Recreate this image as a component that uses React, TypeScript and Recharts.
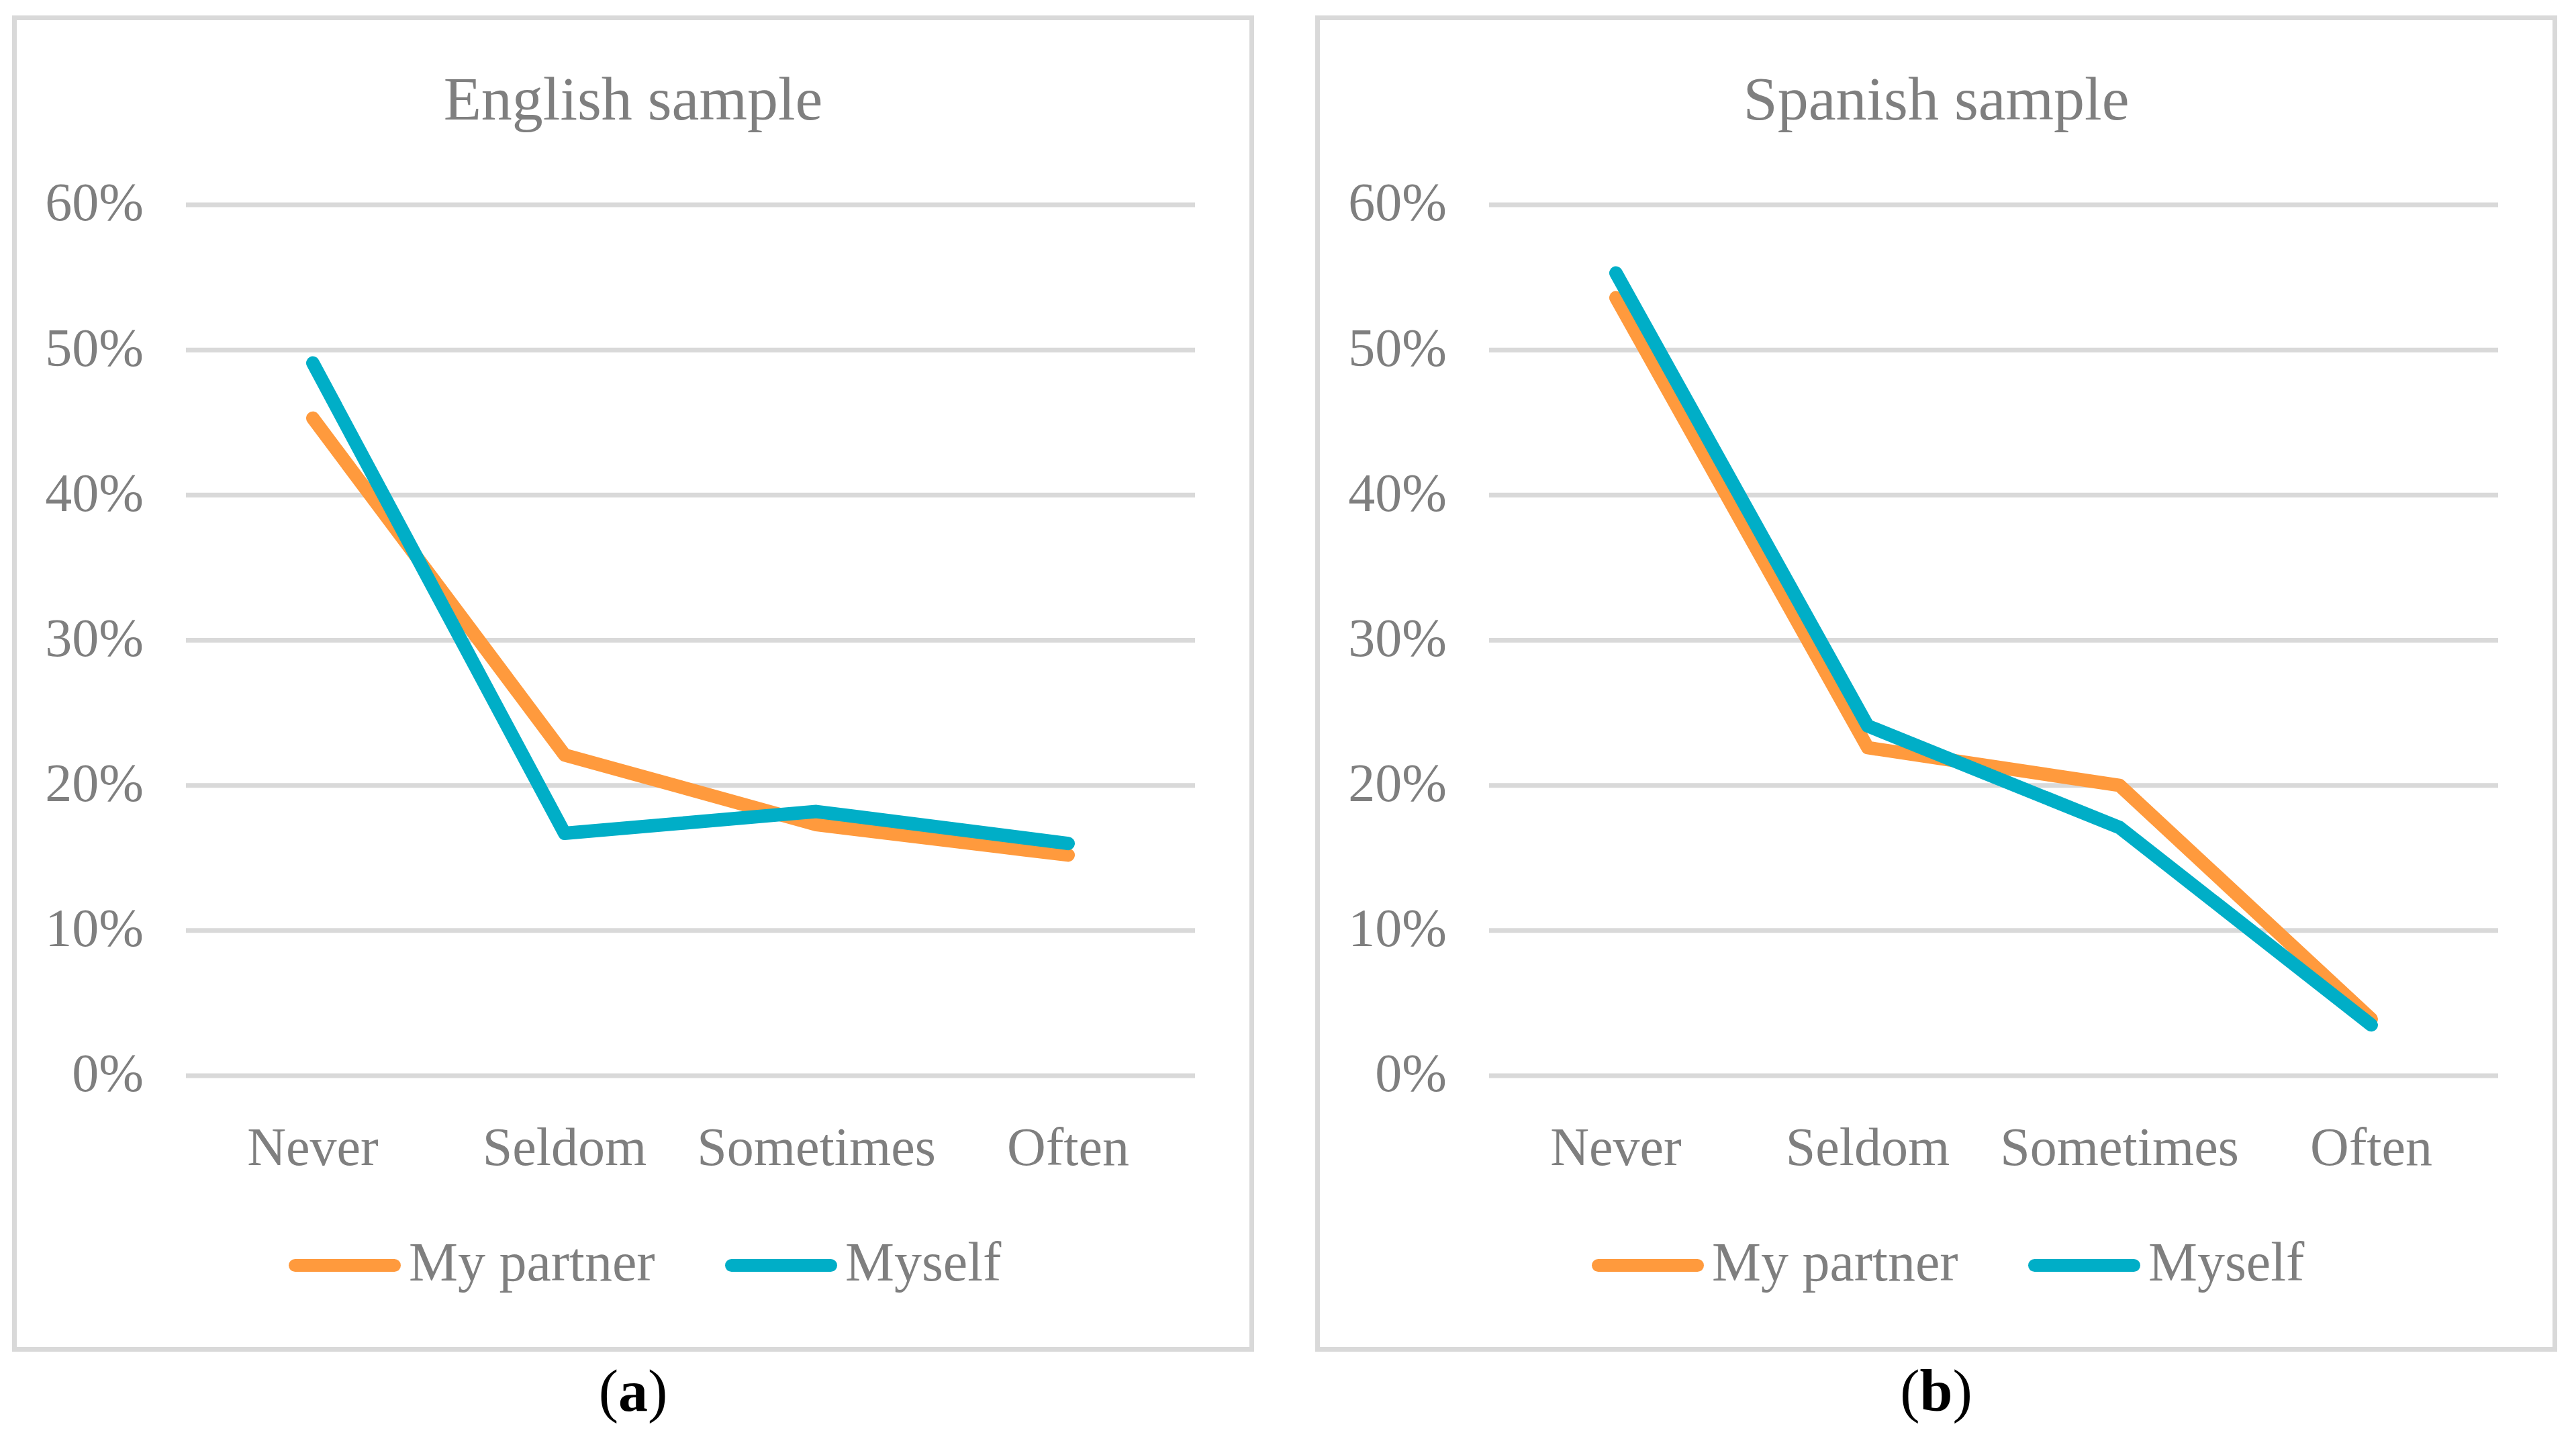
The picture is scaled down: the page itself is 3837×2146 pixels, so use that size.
import { LineChart, Line, XAxis, YAxis, CartesianGrid, Legend } from 'recharts';

const categories = ['Never', 'Seldom', 'Sometimes', 'Often'];
const englishPartner = [45.3, 22.1, 17.3, 15.2];
const englishMyself = [49.1, 16.7, 18.2, 16.0];
const spanishPartner = [53.6, 22.6, 20.0, 3.9];
const spanishMyself = [55.3, 24.1, 17.1, 3.5];
const percentTicks = [0, 10, 20, 30, 40, 50, 60];
const seriesNames = ['My partner', 'Myself'];

const ORANGE = '#ff9a3d';
const TEAL = '#00aec7';
const GREY_TEXT = '#7f7f7f';
const GRID = '#d9d9d9';
const FONT = '"Liberation Serif", "Times New Roman", serif';

const PANEL_W = 1850;
const PANEL_H = 1990;

function buildRows(partner: number[], myself: number[]) {
    return categories.map((c, i) => ({ category: c, partner: partner[i], myself: myself[i] }));
}

function LegendRow({ payload }: any) {
    if (!payload?.length) return null;
    return (
        <div style={{ display: 'flex', alignItems: 'center', height: 100, paddingLeft: 412 }}>
            {payload.map((entry: any, i: number) => (
                <div key={entry.value} style={{ display: 'flex', alignItems: 'center', width: i === 0 ? 650 : 'auto' }}>
                    <div style={{ width: 167, height: 19, borderRadius: 10, background: entry.color }} />
                    <span style={{ marginLeft: 12, fontFamily: FONT, fontSize: 82, color: GREY_TEXT, lineHeight: '100px', position: 'relative', top: -4 }}>
                        {entry.value}
                    </span>
                </div>
            ))}
        </div>
    );
}

function Panel({ left, title, caption, partner, myself }: { left: number; title: string; caption: string; partner: number[]; myself: number[] }) {
    const rows = buildRows(partner, myself);
    return (
        <>
            <div style={{ position: 'absolute', left, top: 23, width: PANEL_W, height: PANEL_H }}>
                <div style={{ position: 'absolute', inset: 0, border: `7px solid ${GRID}`, boxSizing: 'border-box' }} />
                <div style={{ position: 'absolute', left: 0, top: 78, width: PANEL_W, textAlign: 'center', fontFamily: FONT, fontSize: 92, lineHeight: '92px', color: GREY_TEXT }}>
                    {title}
                </div>
                <div style={{ position: 'absolute', left: 0, top: 0 }}>
                    <LineChart width={PANEL_W} height={PANEL_H} data={rows} margin={{ top: 282, right: 88, left: 0, bottom: 271 }}>
                        <CartesianGrid stroke={GRID} strokeWidth={7} vertical={false} />
                        <XAxis
                            dataKey="category"
                            interval={0}
                            axisLine={false}
                            tickLine={false}
                            tickSize={0}
                            tickMargin={76}
                            height={140}
                            padding={{ left: 189, right: 189 }}
                            tick={{ fontFamily: FONT, fontSize: 80, fill: GREY_TEXT }}
                        />
                        <YAxis
                            domain={[0, 60]}
                            ticks={percentTicks}
                            tickFormatter={(v: number) => `${v}%`}
                            axisLine={false}
                            tickLine={false}
                            tickSize={0}
                            tickMargin={63}
                            width={259}
                            tick={{ fontFamily: FONT, fontSize: 80, fill: GREY_TEXT, dy: -5 }}
                        />
                        <Legend
                            layout="horizontal"
                            verticalAlign="middle"
                            align="center"
                            wrapperStyle={{ top: 1811, left: 0, width: PANEL_W }}
                            content={<LegendRow />}
                        />
                        <Line
                            type="linear"
                            dataKey="partner"
                            name={seriesNames[0]}
                            stroke={ORANGE}
                            strokeWidth={20}
                            strokeLinecap="round"
                            strokeLinejoin="round"
                            dot={false}
                            activeDot={false}
                            isAnimationActive={false}
                        />
                        <Line
                            type="linear"
                            dataKey="myself"
                            name={seriesNames[1]}
                            stroke={TEAL}
                            strokeWidth={20}
                            strokeLinecap="round"
                            strokeLinejoin="round"
                            dot={false}
                            activeDot={false}
                            isAnimationActive={false}
                        />
                    </LineChart>
                </div>
            </div>
            <div style={{ position: 'absolute', left, top: 2028, width: PANEL_W, textAlign: 'center', fontFamily: FONT, fontSize: 88, lineHeight: '88px', color: '#000' }}>
                (<b>{caption}</b>)
            </div>
        </>
    );
}

export default function App() {
    return (
        <div style={{ position: 'relative', width: 3837, height: 2146, background: '#fff', overflow: 'hidden' }}>
            <style>{'body{margin:0}'}</style>
            <Panel left={18} title="English sample" caption="a" partner={englishPartner} myself={englishMyself} />
            <Panel left={1959} title="Spanish sample" caption="b" partner={spanishPartner} myself={spanishMyself} />
        </div>
    );
}
